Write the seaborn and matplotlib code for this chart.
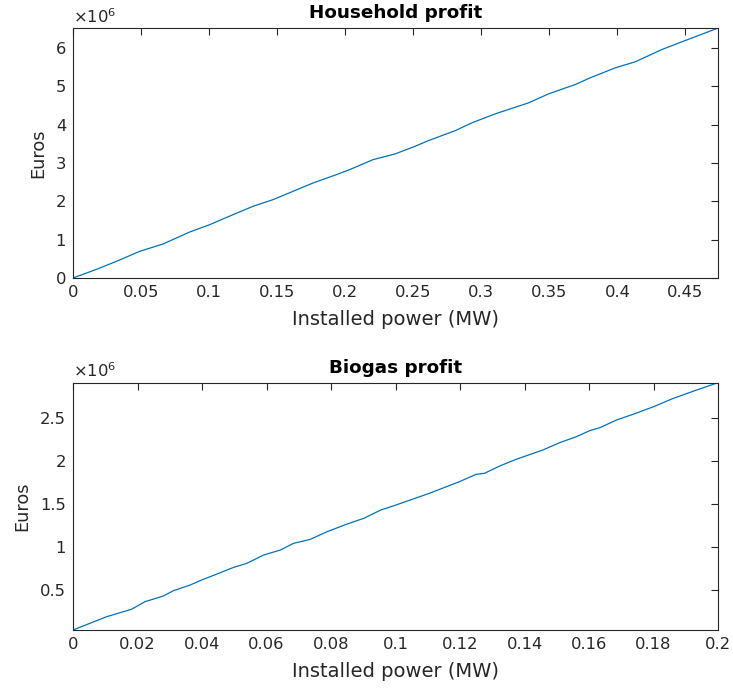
import numpy as np
import pandas as pd
import matplotlib
matplotlib.use('Agg')
import matplotlib.pyplot as plt
import matplotlib.ticker as mticker
import seaborn as sns

# household profit, installed power in MW, profit in millions of euros
household_mw = [0, 0.0172, 0.0319, 0.049, 0.0662, 0.0858, 0.1005, 0.1176, 0.1324,
                0.147, 0.1618, 0.1765, 0.1936, 0.2034, 0.2206, 0.2368, 0.2515,
                0.2613, 0.281, 0.2931, 0.3103, 0.3348, 0.3495, 0.3691, 0.3789,
                0.3985, 0.4132, 0.4328, 0.45, 0.474]
household_meur = [0, 0.226, 0.435, 0.696, 0.888, 1.201, 1.392, 1.653, 1.872,
                  2.044, 2.263, 2.48, 2.697, 2.828, 3.089, 3.238, 3.438,
                  3.585, 3.846, 4.047, 4.282, 4.569, 4.804, 5.047, 5.204,
                  5.483, 5.64, 5.961, 6.196, 6.52]

# biogas profit
biogas_mw = [0, 0.0104, 0.0181, 0.0223, 0.028, 0.0311, 0.0363, 0.0399, 0.0446,
             0.0498, 0.0539, 0.0591, 0.0643, 0.0684, 0.0736, 0.0788, 0.085,
             0.0902, 0.0954, 0.1001, 0.1105, 0.1198, 0.125, 0.1276, 0.1323,
             0.1374, 0.1457, 0.1509, 0.1561, 0.1602, 0.1634, 0.1685, 0.1737,
             0.18, 0.1862, 0.1934, 0.2]
biogas_meur = [0.034, 0.189, 0.275, 0.364, 0.43, 0.492, 0.558, 0.617, 0.686,
               0.764, 0.811, 0.908, 0.966, 1.044, 1.091, 1.18, 1.269,
               1.336, 1.432, 1.49, 1.627, 1.762, 1.848, 1.86, 1.945,
               2.023, 2.132, 2.217, 2.287, 2.357, 2.392, 2.481, 2.548,
               2.636, 2.734, 2.831, 2.916]

household = pd.DataFrame({'mw': household_mw, 'eur': household_meur})
biogas = pd.DataFrame({'mw': biogas_mw, 'eur': biogas_meur})

sns.set_style('white')
plt.rcParams['font.family'] = ['DejaVu Sans']

grey = '#262626'
line_col = '#0072BD'

fig = plt.figure(figsize=(7.33, 6.89), dpi=100)
ax1 = fig.add_axes([0.0996, 0.5965, 0.880, 0.3628])
ax2 = fig.add_axes([0.0996, 0.0856, 0.880, 0.359])

fmt = mticker.FuncFormatter(lambda v, p: '%g' % round(v, 6))


def style_axes(ax, title):
    ax.set_title(title, fontsize=13.2, fontweight='bold', color='black', pad=7)
    ax.set_xlabel('Installed power (MW)', fontsize=14, color=grey, labelpad=7)
    ax.set_ylabel('Euros', fontsize=12.8, color=grey, labelpad=6)
    ax.tick_params(direction='in', length=5, width=0.8, colors=grey,
                   labelsize=11.8, top=True, right=True, pad=5)
    for s in ax.spines.values():
        s.set_color(grey)
        s.set_linewidth(0.8)
    ax.xaxis.set_major_formatter(fmt)
    ax.yaxis.set_major_formatter(fmt)
    ax.text(0, 1.01, r'$\times10^{6}$', transform=ax.transAxes, fontsize=11.8,
            color=grey, ha='left', va='bottom')


sns.lineplot(data=household, x='mw', y='eur', ax=ax1, color=line_col, linewidth=0.9)
ax1.set_xlim(0, max(household_mw))
ax1.set_ylim(0, max(household_meur))
ax1.set_xticks(np.arange(0, 0.46, 0.05))
ax1.set_yticks(range(0, 7))
style_axes(ax1, 'Household profit')

sns.lineplot(data=biogas, x='mw', y='eur', ax=ax2, color=line_col, linewidth=0.9)
ax2.set_xlim(0, max(biogas_mw))
ax2.set_ylim(min(biogas_meur), max(biogas_meur))
ax2.set_xticks(np.arange(0, 0.201, 0.02))
ax2.set_yticks([0.5, 1, 1.5, 2, 2.5])
style_axes(ax2, 'Biogas profit')

fig.savefig('out.png', dpi=100)
